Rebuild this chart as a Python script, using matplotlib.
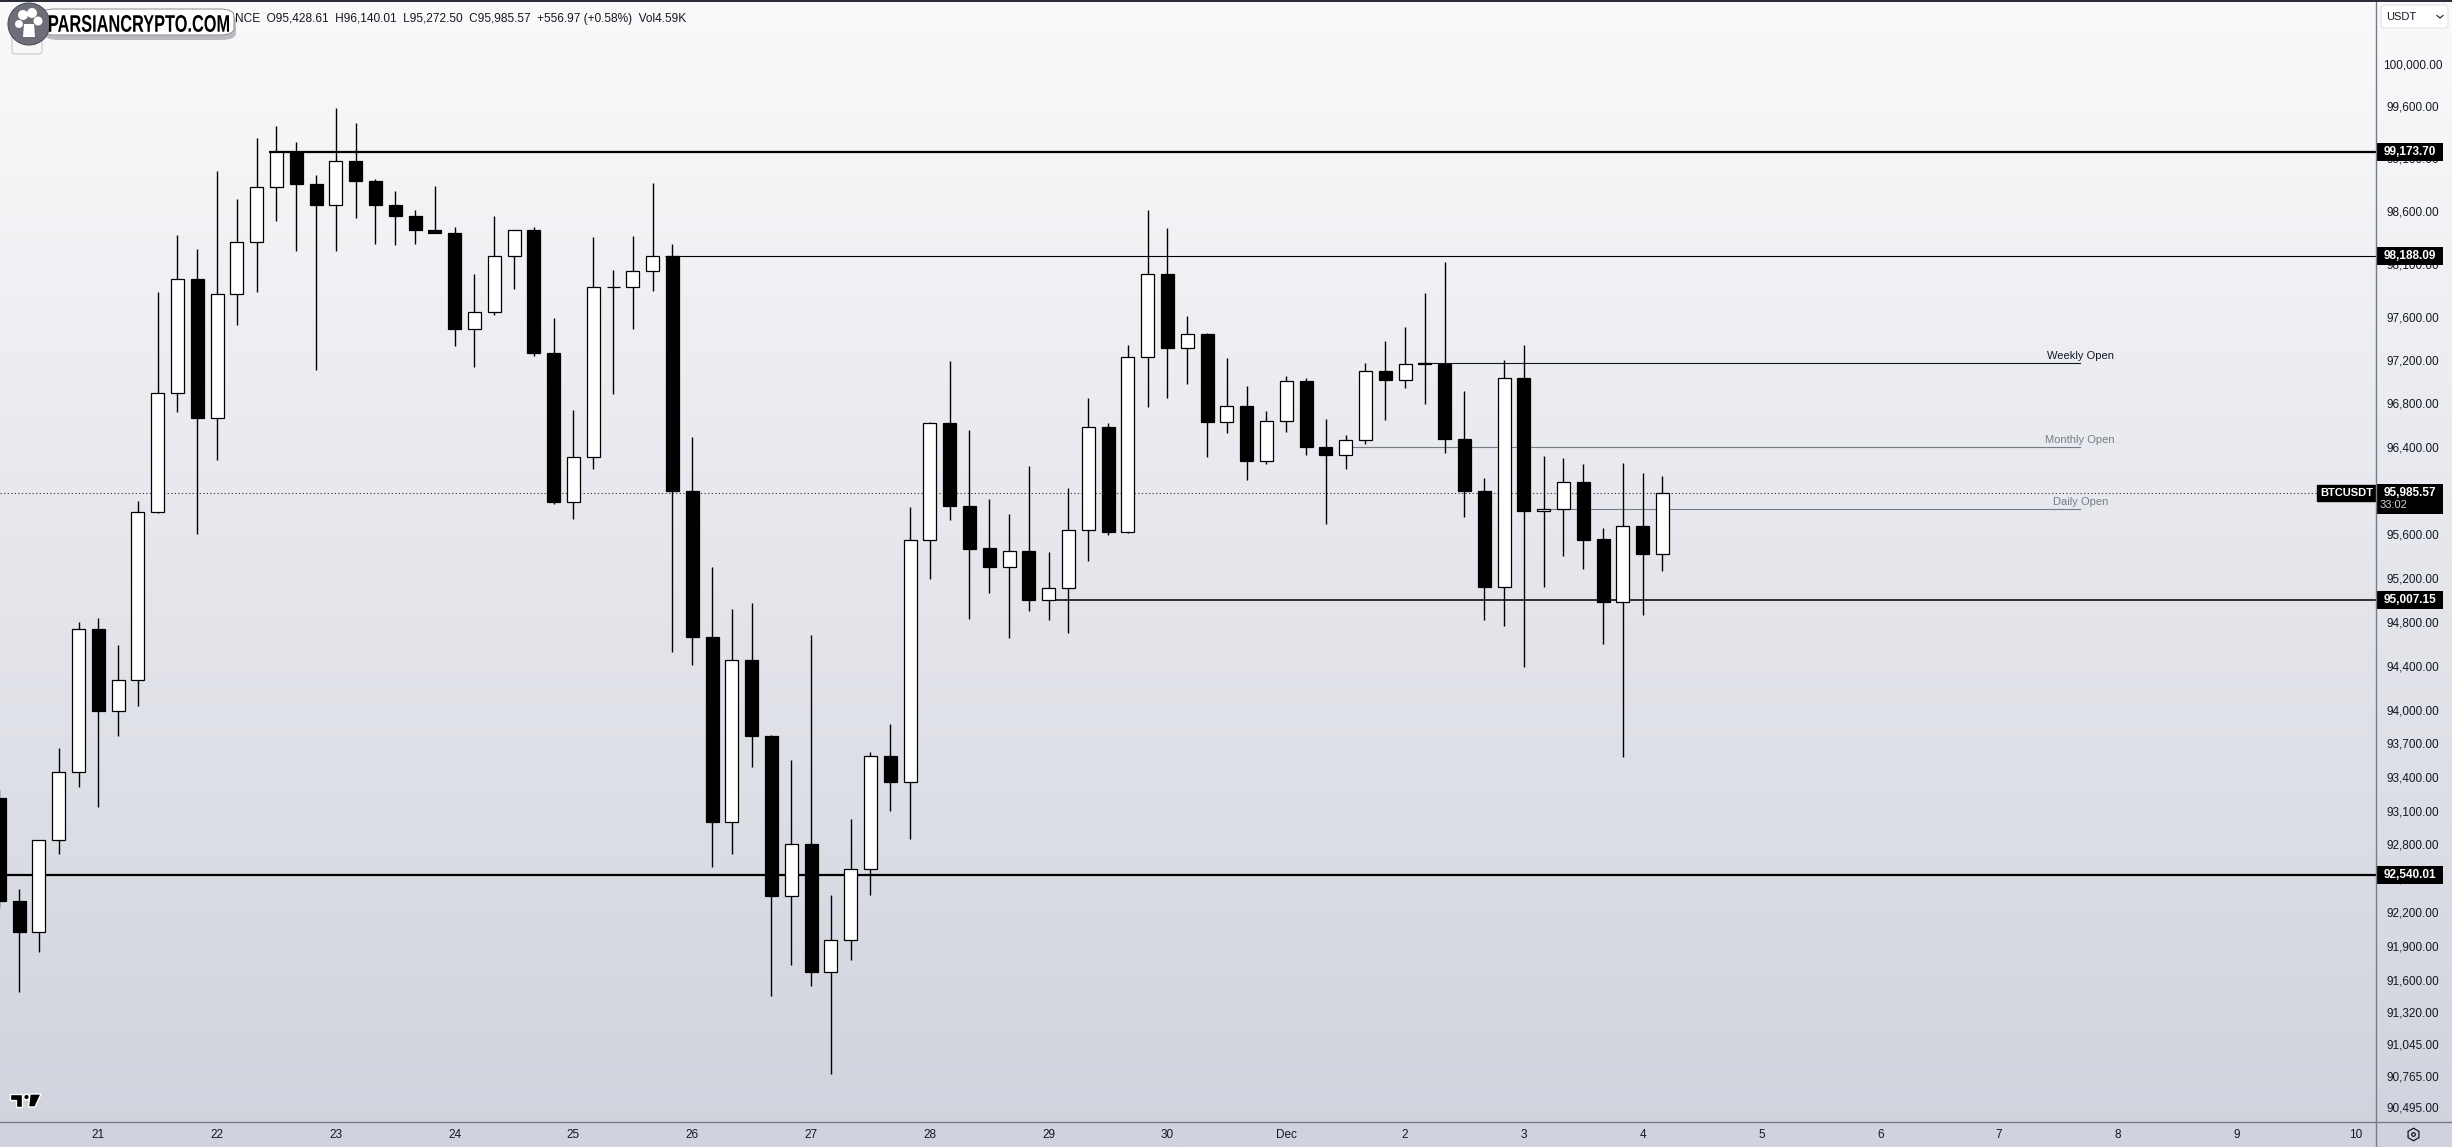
import numpy as np
import matplotlib
matplotlib.use("Agg")
import matplotlib.pyplot as plt
from matplotlib.patches import Rectangle, FancyBboxPatch, Ellipse, Polygon, PathPatch
from matplotlib.lines import Line2D
from matplotlib.transforms import blended_transform_factory, Affine2D
from matplotlib.textpath import TextPath
from matplotlib.font_manager import FontProperties

plt.rcParams['font.family'] = ['Liberation Sans', 'DejaVu Sans']

# ---- data: BTCUSDT 4h candles, index 0 = 21 Nov 00:00 ----
candle_index = list(range(-5, 80))
open_ = [93226, 92309, 92035, 92847, 93455, 94746, 94003, 94287, 95809, 96911,
         97972, 96679, 97832, 98319, 98837, 99173.7, 98866, 98666, 99085, 98896,
         98672, 98566, 98431, 98407, 97506, 97669, 98194, 98431, 97284, 95906,
         96318, 97902, 97896, 98048, 98188.09, 96009, 94672, 93009, 94463, 93779,
         92353, 92813, 91683, 91963, 92590, 93600, 93366, 95557, 96633, 95872,
         95482, 95306, 95460, 95007.15, 95117, 95649, 96598, 95632, 97249, 98019,
         97331, 97459, 96638, 96789, 96278, 96650, 97022, 96415, 96335, 96473,
         97115, 97028, 97191, 97180, 96484, 96009, 95128, 97051, 95826, 95843,
         96084, 95563, 94990, 95689, 95428.61]
high = [93300, 92419, 92850, 93673, 94809, 94843, 94604, 95912, 97855, 98390,
        98260, 98990, 98731, 99307, 99418, 99265, 98955, 99591, 99448, 98920,
        98802, 98625, 98849, 98466, 98025, 98566, 98431, 98466, 97605, 96754,
        98372, 98054, 98378, 98878, 98307, 96501, 95306, 94928, 94979, 93785,
        93567, 94695, 92364, 93042, 93639, 93890, 95855, 96640, 97208, 96570,
        95929, 95792, 96232, 95443, 96032, 96865, 96633, 97360, 98625, 98449,
        97628, 97465, 97237, 96975, 96741, 97069, 97046, 96673, 96518, 97185,
        97395, 97529, 97844, 98136, 96929, 96124, 97220, 97360, 96330, 96312,
        96250, 95666, 96261, 96175, 96140.01]
low = [92250, 91507, 91859, 92724, 93321, 93142, 93779, 94049, 95800, 96730,
       95615, 96290, 97541, 97855, 98524, 98236, 97126, 98236, 98548, 98307,
       98289, 98307, 98407, 97343, 97150, 97634, 97879, 97255, 95890, 95752,
       96209, 96900, 97506, 97861, 94536, 94417, 92607, 92730, 93505, 91474,
       91744, 91562, 90798, 91793, 92364, 93109, 92858, 95203, 95740, 94837,
       95077, 94661, 94911, 94826, 94712, 95369, 95603, 95620, 96777, 96865,
       96993, 96318, 96541, 96107, 96255, 96547, 96335, 95706, 96209, 96438,
       96661, 96958, 96806, 96358, 95763, 94826, 94775, 94406, 95128, 95409,
       95294, 94610, 93589, 94871, 95272.50]
close = [92309, 92035, 92847, 93455, 94746, 94003, 94287, 95809, 96911, 97972,
         96679, 97832, 98319, 98837, 99173.7, 98866, 98666, 99085, 98896, 98666,
         98566, 98431, 98407, 97506, 97669, 98194, 98431, 97284, 95906, 96318,
         97902, 97896, 98048, 98188.09, 96009, 94672, 93009, 94463, 93779, 92353,
         92813, 91683, 91963, 92590, 93600, 93366, 95557, 96633, 95872, 95477,
         95306, 95460, 95007, 95117, 95649, 96598, 95632, 97249, 98019, 97331,
         97459, 96638, 96789, 96278, 96650, 97022, 96410, 96335, 96473, 97115,
         97028, 97179, 97180, 96484, 96009, 95128, 97051, 95826, 95843, 96084,
         95557, 94990, 95689, 95428.60, 95985.57]
volume_text = 'Vol4.59K'

day_labels = ['21', '22', '23', '24', '25', '26', '27', '28', '29', '30',
              'Dec', '2', '3', '4', '5', '6', '7', '8', '9', '10']
bars_per_day = 6

key_levels = [99173.70, 98188.09, 95007.15, 92540.01]
key_level_start = [9, 29, 48, None]
key_level_lw = [1.6, 0.8, 1.1, 1.6]

open_labels = ['Weekly Open', 'Monthly Open', 'Daily Open']
open_levels = [97190, 96410, 95843]
open_start = [67, 63, 73]
open_colors = ['#131722', '#787b86', '#787b86']
open_line_end = 100.1

symbol = 'BTCUSDT'
countdown = '33:02'
price_ticks = [100000, 99600, 99100, 98600, 98100, 97600, 97200, 96800, 96400,
               96000, 95600, 95200, 94800, 94400, 94000, 93700, 93400, 93100,
               92800, 92500, 92200, 91900, 91600, 91320, 91045, 90765, 90495]

# ---- figure layout (pixels) ----
W, H = 2452, 1147
DPI = 100
PLOT_R = 2376
PLOT_B = 1122
YMIN, YMAX = 90378, 100626
XMIN, XMAX = -4.965, 115.04
TEXT = '#131722'
GRAY = '#787b86'


def fx(x):
    return x / W


def fy(y):
    return 1 - y / H


def fig_circle(cx, cy, r, **kw):
    fig.add_artist(Ellipse((fx(cx), fy(cy)), 2 * r / W, 2 * r / H,
                           transform=fig.transFigure, **kw))


def fig_poly(pts, **kw):
    fig.add_artist(Polygon([(fx(a), fy(b)) for a, b in pts], closed=True,
                           transform=fig.transFigure, **kw))


fig = plt.figure(figsize=(W / DPI, H / DPI), dpi=DPI)

# gradient background
bg = fig.add_axes([0, 0, 1, 1], zorder=-10)
top_c = np.array([250, 250, 251]) / 255
bot_c = np.array([208, 211, 221]) / 255
t = np.linspace(0, 1, 512)[:, None]
grad = top_c[None, None, :] * (1 - t[..., None]) + bot_c[None, None, :] * t[..., None]
grad = np.repeat(grad, 2, axis=1)
bg.imshow(grad, aspect='auto', extent=[0, 1, 0, 1], origin='upper')
bg.set_xlim(0, 1)
bg.set_ylim(0, 1)
bg.axis('off')

# main price pane
ax = fig.add_axes([0, fy(PLOT_B), fx(PLOT_R), PLOT_B / H])
ax.set_facecolor('none')
ax.set_yscale('log')
ax.set_ylim(YMIN, YMAX)
ax.set_xlim(XMIN, XMAX)
ax.axis('off')

x = np.array(candle_index, dtype=float)
o = np.array(open_)
c = np.array(close)
hi = np.array(high)
lo = np.array(low)

ax.vlines(x, lo, hi, color='black', linewidth=1.0, zorder=3)
body_lo = np.minimum(o, c)
body_h = np.maximum(np.abs(c - o), 1.0)
fills = np.where(c >= o, 'white', 'black')
ax.bar(x, body_h, bottom=body_lo, width=0.66, color=fills, edgecolor='black',
       linewidth=0.9, zorder=4)

# key horizontal levels
for lvl, start, lw in zip(key_levels, key_level_start, key_level_lw):
    x0 = XMIN if start is None else start - 0.36
    ax.plot([x0, XMAX], [lvl, lvl], color='black', lw=lw, zorder=2,
            solid_capstyle='butt')

# weekly / monthly / daily open lines
for lab, lvl, start, col in zip(open_labels, open_levels, open_start, open_colors):
    ax.plot([start - 0.36, open_line_end], [lvl, lvl], color=col, lw=0.8, zorder=2)
    ax.annotate(lab, (open_line_end, lvl), xytext=(0, 5), textcoords='offset points',
                ha='center', va='center', fontsize=8, color=col)

# last price dotted line
last_price = close[-1]
trans_ax = blended_transform_factory(ax.transAxes, ax.transData)
ax.plot([0, 2318 / PLOT_R], [last_price, last_price], transform=trans_ax,
        color='#444444', lw=0.8, ls=(0, (1.2, 2.0)), zorder=2)
ax.text(2373 / PLOT_R, last_price, symbol, transform=trans_ax, ha='right', va='center',
        fontsize=8, fontweight='bold', color='white', zorder=6,
        bbox=dict(boxstyle='square,pad=0.28', fc='black', ec='black'))

# TradingView-style logo in the lower left corner
logo_kw = dict(fc='black', ec='white', lw=1.0, zorder=5)
fig_poly([(10, 1094), (22, 1094), (22, 1107), (16, 1107), (16, 1099.5), (10, 1099.5)], **logo_kw)
fig_circle(26.5, 1097, 2.8, **logo_kw)
fig_poly([(30, 1094), (41, 1094), (35, 1107), (28.5, 1107)], **logo_kw)

# right price scale
k_px = PLOT_B / np.log(YMAX / YMIN)
axr = fig.add_axes([fx(PLOT_R), fy(PLOT_B), 1 - fx(PLOT_R), PLOT_B / H])
axr.set_facecolor('none')
axr.set_yscale('log')
axr.set_ylim(YMIN, YMAX)
axr.set_xlim(0, W - PLOT_R)
axr.axis('off')
for p in price_ticks:
    axr.text(37, p, f'{p:,.2f}', ha='center', va='center', fontsize=8.5, color=TEXT, zorder=2)


def price_box(p, h_px, x0=1, x1=67):
    y0 = p * np.exp(-h_px / 2 / k_px)
    y1 = p * np.exp(h_px / 2 / k_px)
    axr.add_patch(Rectangle((x0, y0), x1 - x0, y1 - y0, fc='black', ec='none', zorder=5))


for lvl in key_levels:
    price_box(lvl, 18)
    axr.text(34, lvl, f'{lvl:,.2f}', ha='center', va='center', fontsize=8.5,
             fontweight='bold', color='white', zorder=6)

# last price box with countdown
lp_top = last_price * np.exp(9 / k_px)
lp_bot = last_price * np.exp(-21 / k_px)
axr.add_patch(Rectangle((1, lp_bot), 66, lp_top - lp_bot, fc='black', ec='none', zorder=5))
axr.text(34, last_price, f'{last_price:,.2f}', ha='center', va='center', fontsize=8.5,
         fontweight='bold', color='white', zorder=6)
axr.text(4, last_price * np.exp(-12 / k_px), countdown, ha='left', va='center',
         fontsize=8, color='#d0d0d0', zorder=6)

# time axis
axb = fig.add_axes([0, 0, fx(PLOT_R), fy(PLOT_B)])
axb.set_facecolor('none')
axb.set_xlim(XMIN, XMAX)
axb.set_ylim(0, 1)
axb.axis('off')
for k, lab in enumerate(day_labels):
    axb.text(k * bars_per_day, 0.46, lab, ha='center', va='center', fontsize=8.5, color=TEXT)

# pane separators
fig.add_artist(Line2D([0, 1], [fy(PLOT_B), fy(PLOT_B)], transform=fig.transFigure,
                      color=GRAY, lw=1.0))
fig.add_artist(Line2D([fx(PLOT_R), fx(PLOT_R)], [0, 1], transform=fig.transFigure,
                      color=GRAY, lw=1.0))
fig.add_artist(Rectangle((0, fy(2)), 1, 2 / H, transform=fig.transFigure,
                         fc='#2a2e39', ec='none', zorder=10))

# settings icon in the corner
fig.add_artist(Line2D([fx(2413)], [fy(1134)], transform=fig.transFigure, marker='h',
                      markersize=9, mfc='none', mec=TEXT, mew=0.9))
fig.add_artist(Line2D([fx(2413)], [fy(1134)], transform=fig.transFigure, marker='o',
                      markersize=2.6, mfc='none', mec=TEXT, mew=0.9))

# currency selector
fig.add_artist(FancyBboxPatch((fx(2381), fy(28)), fx(67), 23 / H,
                              boxstyle='round,pad=0,rounding_size=0.002',
                              transform=fig.transFigure, fc='white', ec='#e0e3eb', lw=0.8))
fig.text(fx(2386), fy(16.5), 'USDT', ha='left', va='center', fontsize=8, color=TEXT)
fig.add_artist(Line2D([fx(2437), fx(2440), fx(2443)], [fy(15.5), fy(18), fy(15.5)],
                      transform=fig.transFigure, color=TEXT, lw=0.8))

# legend line with OHLC of the last candle
chg = close[-1] - close[-2]
pct = chg / close[-2] * 100
header = (f'NCE  O{open_[-1]:,.2f}  H{high[-1]:,.2f}  L{low[-1]:,.2f}  '
          f'C{close[-1]:,.2f}  {chg:+,.2f} ({pct:+.2f}%)  {volume_text}')
fig.text(fx(235), fy(19), header, ha='left', va='center', fontsize=8.6, color=TEXT)

# site watermark
fig.add_artist(FancyBboxPatch((fx(12), fy(54)), fx(30), 20 / H,
                              boxstyle='round,pad=0,rounding_size=0.002',
                              transform=fig.transFigure, fc='none', ec='#c8cad0', lw=0.8))
fig.add_artist(FancyBboxPatch((fx(44), fy(40)), fx(192), 27 / H,
                              boxstyle='round,pad=0,rounding_size=0.006',
                              transform=fig.transFigure, fc='#8a8a90', ec='none',
                              alpha=0.55, zorder=11))
fig.add_artist(FancyBboxPatch((fx(40), fy(35)), fx(194), 26 / H,
                              boxstyle='round,pad=0,rounding_size=0.006',
                              transform=fig.transFigure, fc='white', ec='#9a9aa0',
                              lw=0.8, zorder=12))
fig_circle(29, 24, 21, fc='#6e6e78', ec='#50505a', lw=0.8, zorder=13)
for cx, cy, r in [(23, 15, 5), (32, 13, 5), (38, 21, 4.5), (19, 24, 4)]:
    fig_circle(cx, cy, r, fc='white', ec='none', zorder=14)
fig_poly([(24, 24), (34, 24), (35, 37), (23, 37)], fc='white', ec='none', zorder=14)

# watermark lettering, fitted into its box
brand = TextPath((0, 0), 'PARSIANCRYPTO.COM', size=100,
                 prop=FontProperties(family='Liberation Sans', weight='bold'))
ext = brand.get_extents()
bx0, bx1, by_top, by_bot = 49, 229, 15, 32
tr = (Affine2D().translate(-ext.x0, -ext.y0)
      .scale((bx1 - bx0) / ext.width, (by_bot - by_top) / ext.height)
      .translate(bx0, H - by_bot))
fig.add_artist(PathPatch(brand, transform=tr, fc='black', ec='none', zorder=15))

fig.savefig('out.png', dpi=DPI)
